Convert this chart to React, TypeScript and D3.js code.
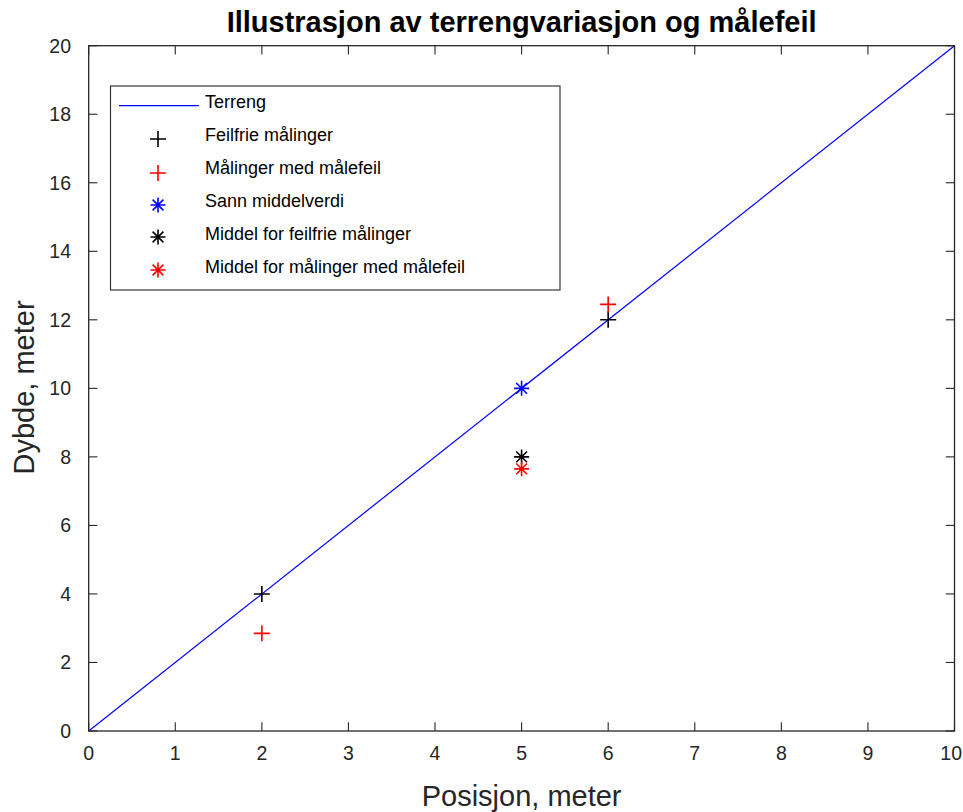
import React from "react";
import * as d3 from "d3";

// Terrain line and measurement points
const terrainX = [0, 10];
const terrainY = [0, 20];

const positions = [2, 6];
const errorFreeDepths = [4, 12];
const measuredDepths = [2.85, 12.45];

const meanPosition = 5;
const trueMean = 10;
const errorFreeMean = 8;
const measuredMean = 7.65;

const xTicks = [0, 1, 2, 3, 4, 5, 6, 7, 8, 9, 10];
const yTicks = [0, 2, 4, 6, 8, 10, 12, 14, 16, 18, 20];

const legendLabels = [
  "Terreng",
  "Feilfrie målinger",
  "Målinger med målefeil",
  "Sann middelverdi",
  "Middel for feilfrie målinger",
  "Middel for målinger med målefeil",
];

const W = 963;
const H = 812;
const left = 88.7;
const right = 954.5;
const top = 45.7;
const bottom = 731;
const axisColor = "#262626";
const font = "'Liberation Sans', Arial, Helvetica, sans-serif";
const tickLen = 8.7;

function Plus({ x, y, color, size = 8 }: { x: number; y: number; color: string; size?: number }) {
  return (
    <path
      d={`M${x - size},${y}H${x + size}M${x},${y - size}V${y + size}`}
      stroke={color}
      strokeWidth={1.6}
      fill="none"
    />
  );
}

function Star({ x, y, color, size = 7.5 }: { x: number; y: number; color: string; size?: number }) {
  const d = size * 0.72;
  return (
    <path
      d={`M${x - size},${y}H${x + size}M${x},${y - size}V${y + size}M${x - d},${y - d}L${x + d},${y + d}M${x - d},${y + d}L${x + d},${y - d}`}
      stroke={color}
      strokeWidth={1.6}
      fill="none"
    />
  );
}

export default function App() {
  const x = d3.scaleLinear().domain([0, 10]).range([left, right]);
  const y = d3.scaleLinear().domain([0, 20]).range([bottom, top]);
  const line = d3
    .line<number>()
    .x((_, i) => x(terrainX[i]))
    .y((d) => y(d));

  const legendX = 110.5;
  const legendY = 86;
  const legendW = 449.5;
  const legendH = 204;
  const rowY = (i: number) => 102 + i * 33;
  const lastTick = xTicks[xTicks.length - 1];

  return (
    <svg
      width={W}
      height={H}
      style={{ position: "absolute", left: 0, top: 0, background: "#fff" }}
      fontFamily={font}
    >
      <rect width={W} height={H} fill="#fff" />

      {/* terrain line */}
      <path d={line(terrainY) ?? ""} stroke="#0000ff" strokeWidth={1.2} fill="none" />

      {/* individual measurements */}
      {positions.map((p, i) => (
        <Plus key={"ef" + i} x={x(p)} y={y(errorFreeDepths[i])} color="#000" />
      ))}
      {positions.map((p, i) => (
        <Plus key={"m" + i} x={x(p)} y={y(measuredDepths[i])} color="#ff0000" />
      ))}

      {/* means */}
      <Star x={x(meanPosition)} y={y(trueMean)} color="#0000ff" />
      <Star x={x(meanPosition)} y={y(errorFreeMean)} color="#000" />
      <Star x={x(meanPosition)} y={y(measuredMean)} color="#ff0000" />

      {/* axes box */}
      <rect
        x={left}
        y={top}
        width={right - left}
        height={bottom - top}
        fill="none"
        stroke={axisColor}
        strokeWidth={1.3}
      />
      {xTicks.map((t) => (
        <g key={"xt" + t}>
          <line x1={x(t)} x2={x(t)} y1={bottom} y2={bottom - tickLen} stroke={axisColor} strokeWidth={1.1} />
          <line x1={x(t)} x2={x(t)} y1={top} y2={top + tickLen} stroke={axisColor} strokeWidth={1.1} />
          {t === lastTick ? (
            <text x={W - 1} y={760} textAnchor="end" fontSize={19.5} fill={axisColor}>
              {t}
            </text>
          ) : (
            <text x={x(t)} y={760} textAnchor="middle" fontSize={19.5} fill={axisColor}>
              {t}
            </text>
          )}
        </g>
      ))}
      {yTicks.map((t) => (
        <g key={"yt" + t}>
          <line x1={left} x2={left + tickLen} y1={y(t)} y2={y(t)} stroke={axisColor} strokeWidth={1.1} />
          <line x1={right} x2={right - tickLen} y1={y(t)} y2={y(t)} stroke={axisColor} strokeWidth={1.1} />
          <text x={71} y={y(t)} dy="0.35em" textAnchor="end" fontSize={19.5} fill={axisColor}>
            {t}
          </text>
        </g>
      ))}

      {/* labels */}
      <text x={(left + right) / 2} y={32} textAnchor="middle" fontSize={29} fontWeight="bold" fill="#000">
        Illustrasjon av terrengvariasjon og målefeil
      </text>
      <text x={(left + right) / 2} y={806} textAnchor="middle" fontSize={29} fill={axisColor}>
        Posisjon, meter
      </text>
      <text
        transform={`translate(33.5,387.5) rotate(-90)`}
        textAnchor="middle"
        fontSize={29}
        fill={axisColor}
      >
        Dybde, meter
      </text>

      {/* legend */}
      <rect x={legendX} y={legendY} width={legendW} height={legendH} fill="#fff" stroke={axisColor} strokeWidth={1.1} />
      <line x1={119} x2={199} y1={105.7} y2={105.7} stroke="#0000ff" strokeWidth={1.2} />
      <Plus x={158} y={139} color="#000" />
      <Plus x={158} y={173} color="#ff0000" />
      <Star x={158} y={205} color="#0000ff" />
      <Star x={158} y={237} color="#000" />
      <Star x={158} y={270} color="#ff0000" />
      {legendLabels.map((l, i) => (
        <text key={l} x={205} y={rowY(i)} dy="0.35em" fontSize={18} fill="#000">
          {l}
        </text>
      ))}
    </svg>
  );
}
